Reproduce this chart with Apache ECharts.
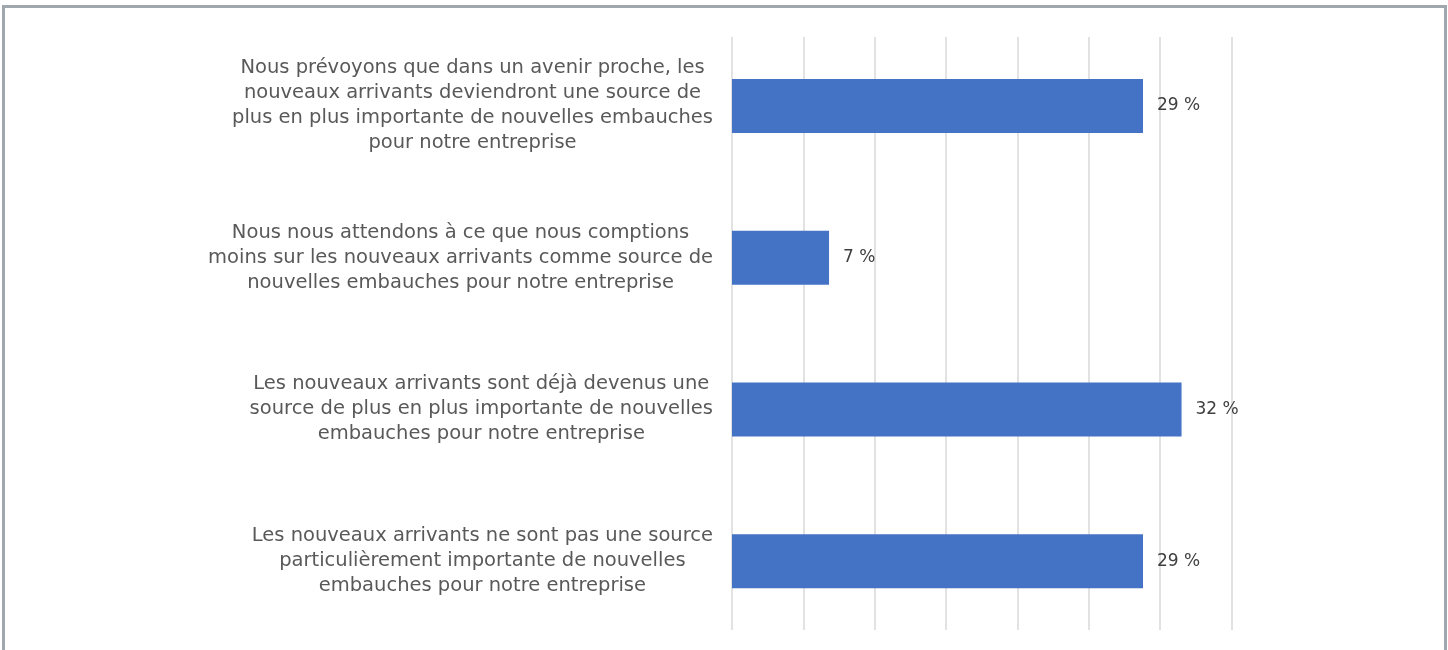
<!DOCTYPE html>
<html>
<head>
<meta charset="utf-8">
<script src="https://cdn.jsdelivr.net/npm/echarts@6/dist/echarts.min.js"></script>
<style>
  html, body { margin: 0; padding: 0; background: #ffffff; }
  #chart { position: absolute; left: 0; top: 0; width: 1448px; height: 650px; }
  #frame { position: absolute; left: 2px; top: 5px; width: 1439px; height: 700px;
           border: 3px solid #a0a7ad; pointer-events: none; }
</style>
</head>
<body>
<div id="chart"></div>
<div id="frame"></div>
<script>
// Categories (top to bottom), with the line breaks seen in the picture
const categories = [
  "Nous prévoyons que dans un avenir proche, les\nnouveaux arrivants deviendront une source de\nplus en plus importante de nouvelles embauches\npour notre entreprise",
  "Nous nous attendons à ce que nous comptions\nmoins sur les nouveaux arrivants comme source de\nnouvelles embauches pour notre entreprise",
  "Les nouveaux arrivants sont déjà devenus une\nsource de plus en plus importante de nouvelles\nembauches pour notre entreprise",
  "Les nouveaux arrivants ne sont pas une source\nparticulièrement importante de nouvelles\nembauches pour notre entreprise"
];
// Values (%)
const values = [28.8, 6.8, 31.5, 28.8];
// Axis range (unlabelled gridlines every 5 %)
const axisMin = 0;
const axisMax = 35;
const axisInterval = 5;

const FONT = "DejaVu Sans";
const chart = echarts.init(document.getElementById('chart'), null, { renderer: 'canvas' });

const option = {
  animation: false,
  backgroundColor: '#ffffff',
  grid: [
    { left: 732, width: 499.5, top: 30, height: 607, containLabel: false },
    { left: 732, width: 499.5, top: 37, height: 593, containLabel: false }
  ],
  xAxis: [
    {
      gridIndex: 0, type: 'value', min: axisMin, max: axisMax, interval: axisInterval,
      axisLine: { show: false }, axisTick: { show: false }, axisLabel: { show: false },
      splitLine: { show: false }
    },
    {
      gridIndex: 1, type: 'value', min: axisMin, max: axisMax, interval: axisInterval,
      axisLine: { show: false }, axisTick: { show: false }, axisLabel: { show: false },
      splitLine: { show: true, lineStyle: { color: '#d9d9d9', width: 1.5 } }
    }
  ],
  yAxis: [
    {
      gridIndex: 0, type: 'category', data: categories, inverse: true,
      axisLine: { show: false }, axisTick: { show: false },
      splitLine: { show: false },
      axisLabel: {
        margin: 19,
        color: '#595959',
        fontFamily: FONT,
        fontSize: 19.5,
        lineHeight: 25,
        formatter: function (v) {
          return v.split('\n').map(function (l) { return '{c|' + l + '}'; }).join('\n');
        },
        rich: {
          c: { align: 'center', color: '#595959', fontFamily: FONT, fontSize: 19.5, lineHeight: 25 }
        }
      }
    },
    {
      gridIndex: 1, type: 'category', data: categories, inverse: true, show: false
    }
  ],
  series: [
    {
      type: 'bar',
      xAxisIndex: 0, yAxisIndex: 0,
      data: values,
      barWidth: 54,
      itemStyle: { color: '#4472c4' },
      label: {
        show: true,
        position: 'right',
        distance: 14,
        color: '#404040',
        fontFamily: FONT,
        fontSize: 17,
        formatter: function (p) { return Math.round(p.value) + ' %'; }
      }
    }
  ]
};
chart.setOption(option);
</script>
</body>
</html>
